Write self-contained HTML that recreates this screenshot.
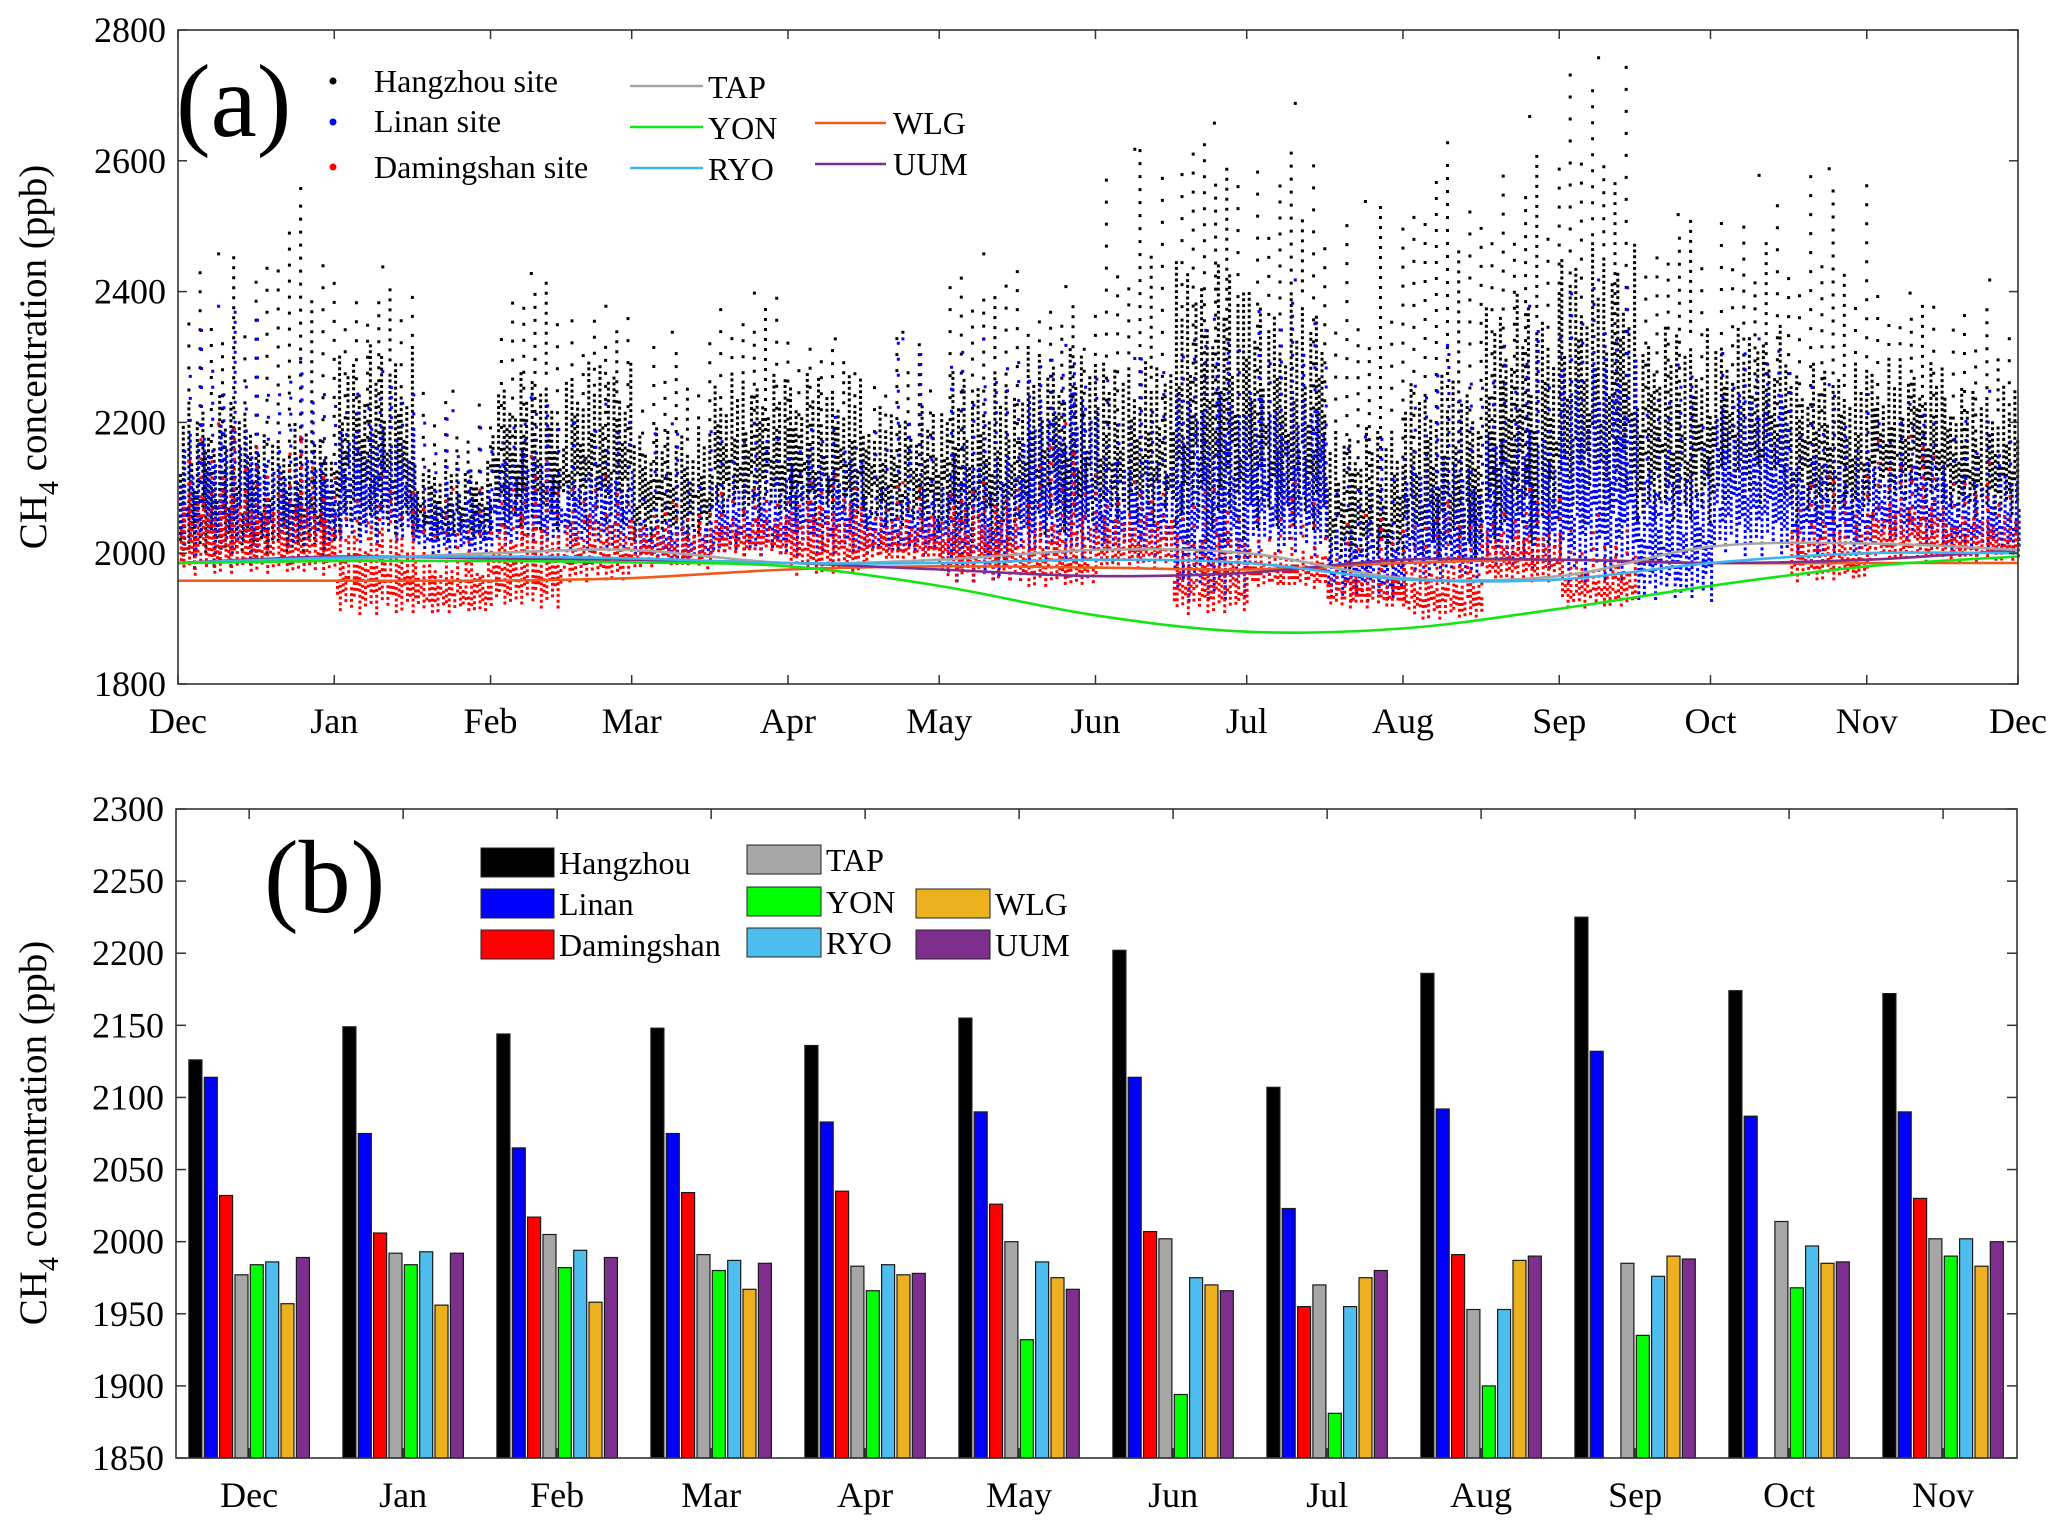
<!DOCTYPE html>
<html><head><meta charset="utf-8"><style>
html,body{margin:0;padding:0;background:#fff;}
svg{display:block;font-family:"Liberation Serif",serif;}
text{font-family:"Liberation Serif",serif;}
</style></head><body>
<svg id="fig" width="2067" height="1535" viewBox="0 0 2067 1535" xmlns="http://www.w3.org/2000/svg">
<rect x="0" y="0" width="2067" height="1535" fill="#fff"/>
<g id="pa"></g>
<g id="pb"></g>
</svg>
<script>
// ---------- Panel (a) data: half-month bins [low, high, peak] ----------
const binMonths = ["Dec","Dec","Jan","Jan","Feb","Feb","Mar","Mar","Apr","Apr","May","May","Jun","Jun","Jul","Jul","Aug","Aug","Sep","Sep","Oct","Oct","Nov","Nov"];
const hzLow  = [1980,2000,2030,2020,2040,2050,2020,2060,2050,2040,2020,2030,2050,2020,2040,1980,1990,2020,2050,2050,2080,2050,2080,2060];
const hzHigh = [2250,2200,2320,2150,2280,2300,2200,2280,2280,2230,2280,2320,2300,2450,2400,2200,2280,2400,2480,2350,2350,2300,2300,2260];
const hzPeak = [2460,2560,2440,2250,2430,2380,2340,2400,2330,2340,2460,2410,2620,2660,2690,2540,2630,2670,2760,2520,2580,2590,2400,2420];
const lnLow  = [2000,2010,2020,2000,2010,2010,1990,2000,2000,2000,1960,1990,2000,1930,2000,1930,1960,1980,1960,1930,2000,2000,2020,2000];
const lnHigh = [2200,2150,2200,2100,2160,2130,2060,2120,2150,2100,2150,2250,2150,2250,2250,2050,2150,2200,2300,2150,2250,2150,2150,2120];
const lnPeak = [2380,2300,2280,2220,2240,2230,2200,2200,2210,2330,2330,2320,2300,2360,2420,2180,2320,2380,2420,2290,2330,2260,2230,2250];
const dmLow  = [1970,1970,1910,1910,1920,1960,1980,2000,1970,1990,1960,1950,1980,1910,1950,1920,1900,1960,1920,null,null,1960,1990,1990];
const dmHigh = [2100,2080,2050,2000,2060,2060,2050,2060,2080,2060,2080,2060,2060,2030,2010,1980,2000,2040,2000,null,null,2050,2080,2060];
const dmPeak = [2200,2180,2120,2100,2150,2120,2080,2100,2120,2110,2110,2200,2110,2100,2110,2060,2080,2100,2060,null,null,2120,2180,2140];
// background station curves, values at month starts Dec..Dec
const monthNames = ["Dec","Jan","Feb","Mar","Apr","May","Jun","Jul","Aug","Sep","Oct","Nov","Dec"];
const monthDays  = [0,31,62,90,121,151,182,212,243,274,304,335,365];
const tapLine = [1985,1990,2000,2005,1985,1990,2005,2000,1962,1965,2010,2015,2005];
const yonLine = [1985,1988,1988,1986,1980,1950,1905,1880,1885,1915,1950,1980,1995];
const ryoLine = [1985,1993,1995,1992,1985,1985,1990,1985,1960,1960,1985,2000,2000];
const wlgLine = [1958,1958,1958,1962,1975,1980,1978,1975,1985,1990,1985,1985,1985];
const uumLine = [1985,1995,1992,1990,1985,1975,1965,1970,1990,1990,1985,1990,2005];
const aYTicks = [1800,2000,2200,2400,2600,2800];

// ---------- Panel (b) data ----------
const bCats = ["Dec","Jan","Feb","Mar","Apr","May","Jun","Jul","Aug","Sep","Oct","Nov"];
const bHangzhou   = [2126,2149,2144,2148,2136,2155,2202,2107,2186,2225,2174,2172];
const bLinan      = [2114,2075,2065,2075,2083,2090,2114,2023,2092,2132,2087,2090];
const bDamingshan = [2032,2006,2017,2034,2035,2026,2007,1955,1991,null,null,2030];
const bTAP        = [1977,1992,2005,1991,1983,2000,2002,1970,1953,1985,2014,2002];
const bYON        = [1984,1984,1982,1980,1966,1932,1894,1881,1900,1935,1968,1990];
const bRYO        = [1986,1993,1994,1987,1984,1986,1975,1955,1953,1976,1997,2002];
const bWLG        = [1957,1956,1958,1967,1977,1975,1970,1975,1987,1990,1985,1983];
const bUUM        = [1989,1992,1989,1985,1978,1967,1966,1980,1990,1988,1986,2000];
const bYTicks = [1850,1900,1950,2000,2050,2100,2150,2200,2250,2300];

const NS="http://www.w3.org/2000/svg";
function mk(tag,attrs,parent){const e=document.createElementNS(NS,tag);for(const k in attrs)e.setAttribute(k,attrs[k]);if(parent)parent.appendChild(e);return e;}

// ================= Panel A =================
const pa=document.getElementById('pa');
const AX0=178,AX1=2018,AY0=30,AY1=684;
const ax=d=>AX0+d/365*(AX1-AX0);
const ay=v=>AY1-(v-1800)/1000*(AY1-AY0);
const texTop=[1,0.55,0.8,0.35,0.95,0.6,0.45,0.85,0.3,0.9,0.65,0.75,0.5,0.7,0.4];
const texBot=[0,0.15,0.05,0.3,0.1,0.2,0.0,0.25,0.12,0.35,0.08,0.18,0.22];

function scatterSite(low,high,peak,color,name,shift){
  const g=mk('g',{},pa);
  
  
  for(let i=0;i<low.length;i++){
    if(low[i]==null) continue;
    const m=Math.floor(i/2), h=i%2;
    const d0=monthDays[m]+(monthDays[m+1]-monthDays[m])*h/2;
    const d1=monthDays[m]+(monthDays[m+1]-monthDays[m])*(h+1)/2;
    const x0=ax(d0),x1=ax(d1);
    const yl=ay(low[i]),yh=ay(high[i]),yp=ay(peak[i]);
    const span=yl-yh;
    let dstr='';
    let c=0;
    for(let x=x0+1+shift;x<x1;x+=2.8){
      c++;
      const top=yl-span*texTop[(c+i)%texTop.length];
      const bot=yl-span*texBot[(c+2*i)%texBot.length];
      const off=(c%3)*2;
      for(let y=bot-off;y>top;y-=5.8){dstr+=`M${x.toFixed(1)} ${y.toFixed(1)}h3v3h-3z`;}
      if(c%4===0){
        const lim=yh-(yh-yp)*texTop[(c*3+i)%texTop.length];
        for(let y=top-6-(c%3)*4;y>lim;y-=10+(c%5)*3){dstr+=`M${x.toFixed(1)} ${y.toFixed(1)}h3v3h-3z`;}
      }
    }
    const xm=(x0+x1)/2+(i%3)*4;
    dstr+=`M${xm.toFixed(1)} ${yp.toFixed(1)}h3v3h-3z`;
    const p=mk('path',{d:dstr,fill:color},g);
    
    
  }
}
scatterSite(hzLow,hzHigh,hzPeak,'#000','hangzhou',0);
scatterSite(lnLow,lnHigh,lnPeak,'#0000ff','linan',1.4);
scatterSite(dmLow,dmHigh,dmPeak,'#ff0000','damingshan',0.7);

function smoothPath(vals){
  const pts=vals.map((v,i)=>[ax(monthDays[i]),ay(v)]);
  let d=`M${pts[0][0]} ${pts[0][1]}`;
  for(let i=0;i<pts.length-1;i++){
    const p0=pts[Math.max(0,i-1)],p1=pts[i],p2=pts[i+1],p3=pts[Math.min(pts.length-1,i+2)];
    const c1=[p1[0]+(p2[0]-p0[0])/6,p1[1]+(p2[1]-p0[1])/6];
    const c2=[p2[0]-(p3[0]-p1[0])/6,p2[1]-(p3[1]-p1[1])/6];
    d+=`C${c1[0].toFixed(1)} ${c1[1].toFixed(1)} ${c2[0].toFixed(1)} ${c2[1].toFixed(1)} ${p2[0].toFixed(1)} ${p2[1].toFixed(1)}`;
  }
  return d;
}
const lines=[[wlgLine,'#f05a1e','wlg-line'],[uumLine,'#7e2f8e','uum-line'],[tapLine,'#a6a6a6','tap-line'],[ryoLine,'#3cb4f0','ryo-line'],[yonLine,'#12e612','yon-line']];
for(const [v,c,n] of lines){
  const p=mk('path',{d:smoothPath(v),fill:'none',stroke:c,'stroke-width':2.6},pa);
  
  
}
const boxA=mk('rect',{x:AX0,y:AY0,width:AX1-AX0,height:AY1-AY0,fill:'none',stroke:'#333','stroke-width':1.6},pa);


for(const t of aYTicks){
  const y=ay(t);
  mk('line',{x1:AX0,x2:AX0+9,y1:y,y2:y,stroke:'#333','stroke-width':1.5},pa);
  mk('line',{x1:AX1,x2:AX1-9,y1:y,y2:y,stroke:'#333','stroke-width':1.5},pa);
  const tx=mk('text',{x:166,y:y+12,'text-anchor':'end','font-size':36,'font-family':'Liberation Serif, serif'},pa);
  tx.textContent=t;
  
  
}
monthNames.forEach((m,i)=>{
  const x=ax(monthDays[i]);
  mk('line',{x1:x,x2:x,y1:AY1,y2:AY1-9,stroke:'#333','stroke-width':1.5},pa);
  mk('line',{x1:x,x2:x,y1:AY0,y2:AY0+9,stroke:'#333','stroke-width':1.5},pa);
  const tx=mk('text',{x:x,y:733,'text-anchor':'middle','font-size':36,'font-family':'Liberation Serif, serif'},pa);
  tx.textContent=m;
  
  
});
</script>
<script>
(function(){
const pa=document.getElementById('pa');
pa.insertAdjacentHTML('beforeend',`
<text x="46" y="357" transform="rotate(-90 46 357)" text-anchor="middle" font-size="39" font-family="Liberation Serif, serif">CH<tspan font-size="28" dy="12">4</tspan><tspan dy="-12"> concentration (ppb)</tspan></text>
<text x="176" y="136" font-size="104" font-family="Liberation Serif, serif">(a)</text>
<g font-family="Liberation Serif, serif">
<circle cx="333" cy="81" r="3.5" fill="#000"/>
<text x="374" y="92" font-size="32">Hangzhou site</text>
<circle cx="333" cy="122" r="3.5" fill="#0000ff"/>
<text x="374" y="132" font-size="32">Linan site</text>
<circle cx="333" cy="167" r="3.5" fill="#ff0000"/>
<text x="374" y="178" font-size="32">Damingshan site</text>
<line x1="630" x2="703" y1="86" y2="86" stroke="#a6a6a6" stroke-width="2.5"/>
<text x="708" y="98" font-size="32">TAP</text>
<line x1="630" x2="703" y1="127" y2="127" stroke="#12e612" stroke-width="2.5"/>
<text x="708" y="139" font-size="32">YON</text>
<line x1="630" x2="703" y1="168" y2="168" stroke="#3cb4f0" stroke-width="2.5"/>
<text x="708" y="180" font-size="32">RYO</text>
<line x1="815" x2="886" y1="123" y2="123" stroke="#f05a1e" stroke-width="2.5"/>
<text x="893" y="134" font-size="32">WLG</text>
<line x1="815" x2="886" y1="164" y2="164" stroke="#7e2f8e" stroke-width="2.5"/>
<text x="893" y="175" font-size="32">UUM</text>
</g>`);
})();

// ================= Panel B =================
(function(){
const pb=document.getElementById('pb');
const BX0=176,BX1=2017,BY0=809,BY1=1458;
const bx=i=>BX0+(i+1-0.525)/11.955*(BX1-BX0);
const by=v=>BY1-(v-1850)/450*(BY1-BY0);
const series=[[bHangzhou,'#000000','hangzhou'],[bLinan,'#0000ff','linan'],[bDamingshan,'#ff0000','damingshan'],[bTAP,'#a6a6a6','tap'],[bYON,'#00ff00','yon'],[bRYO,'#4dbeee','ryo'],[bWLG,'#edb120','wlg'],[bUUM,'#7e2f8e','uum']];
const pitch=15.35,bw=13;
series.forEach(([vals,col,name],k)=>{
  const g=mk('g',{},pb);
  
  
  vals.forEach((v,i)=>{
    if(v==null) return;
    const cx=bx(i)+(k-3.5)*pitch;
    const y=by(v);
    const r=mk('rect',{x:(cx-bw/2).toFixed(1),y:y.toFixed(1),width:bw,height:(BY1-y).toFixed(1),fill:col,stroke:'#1a1a1a','stroke-width':1.2},g);
    
    
  });
});
const box=mk('rect',{x:BX0,y:BY0,width:BX1-BX0,height:BY1-BY0,fill:'none',stroke:'#333','stroke-width':1.6},pb);


bYTicks.forEach(t=>{
  const y=by(t);
  mk('line',{x1:BX0,x2:BX0+10,y1:y,y2:y,stroke:'#333','stroke-width':1.5},pb);
  mk('line',{x1:BX1,x2:BX1-10,y1:y,y2:y,stroke:'#333','stroke-width':1.5},pb);
  const tx=mk('text',{x:164,y:y+12,'text-anchor':'end','font-size':36,'font-family':'Liberation Serif, serif'},pb);
  tx.textContent=t;
  
  
});
bCats.forEach((c,i)=>{
  const x=bx(i);
  mk('line',{x1:x,x2:x,y1:BY0,y2:BY0+10,stroke:'#333','stroke-width':1.5},pb);
  mk('line',{x1:x,x2:x,y1:BY1,y2:BY1-10,stroke:'#333','stroke-width':1.5},pb);
  const tx=mk('text',{x:x,y:1507,'text-anchor':'middle','font-size':36,'font-family':'Liberation Serif, serif'},pb);
  tx.textContent=c;
  
  
});
pb.insertAdjacentHTML('beforeend',`
<text x="46" y="1133" transform="rotate(-90 46 1133)" text-anchor="middle" font-size="39" font-family="Liberation Serif, serif">CH<tspan font-size="28" dy="12">4</tspan><tspan dy="-12"> concentration (ppb)</tspan></text>
<text x="264" y="912" font-size="104" font-family="Liberation Serif, serif">(b)</text>
<g font-size="32" font-family="Liberation Serif, serif">
<rect x="481" y="848" width="73" height="29" fill="#000" stroke="#222"/>
<text x="559" y="874">Hangzhou</text>
<rect x="481" y="889" width="73" height="29" fill="#0000ff" stroke="#222"/>
<text x="559" y="915">Linan</text>
<rect x="481" y="930" width="73" height="29" fill="#ff0000" stroke="#222"/>
<text x="559" y="956">Damingshan</text>
<rect x="747" y="845" width="74" height="29" fill="#a6a6a6" stroke="#222"/>
<text x="826" y="871">TAP</text>
<rect x="747" y="887" width="74" height="29" fill="#00ff00" stroke="#222"/>
<text x="826" y="913">YON</text>
<rect x="747" y="928" width="74" height="29" fill="#4dbeee" stroke="#222"/>
<text x="826" y="954">RYO</text>
<rect x="916" y="889" width="74" height="29" fill="#edb120" stroke="#222"/>
<text x="995" y="915">WLG</text>
<rect x="916" y="930" width="74" height="29" fill="#7e2f8e" stroke="#222"/>
<text x="995" y="956">UUM</text>
</g>`);
})();
</script>
</body></html>
